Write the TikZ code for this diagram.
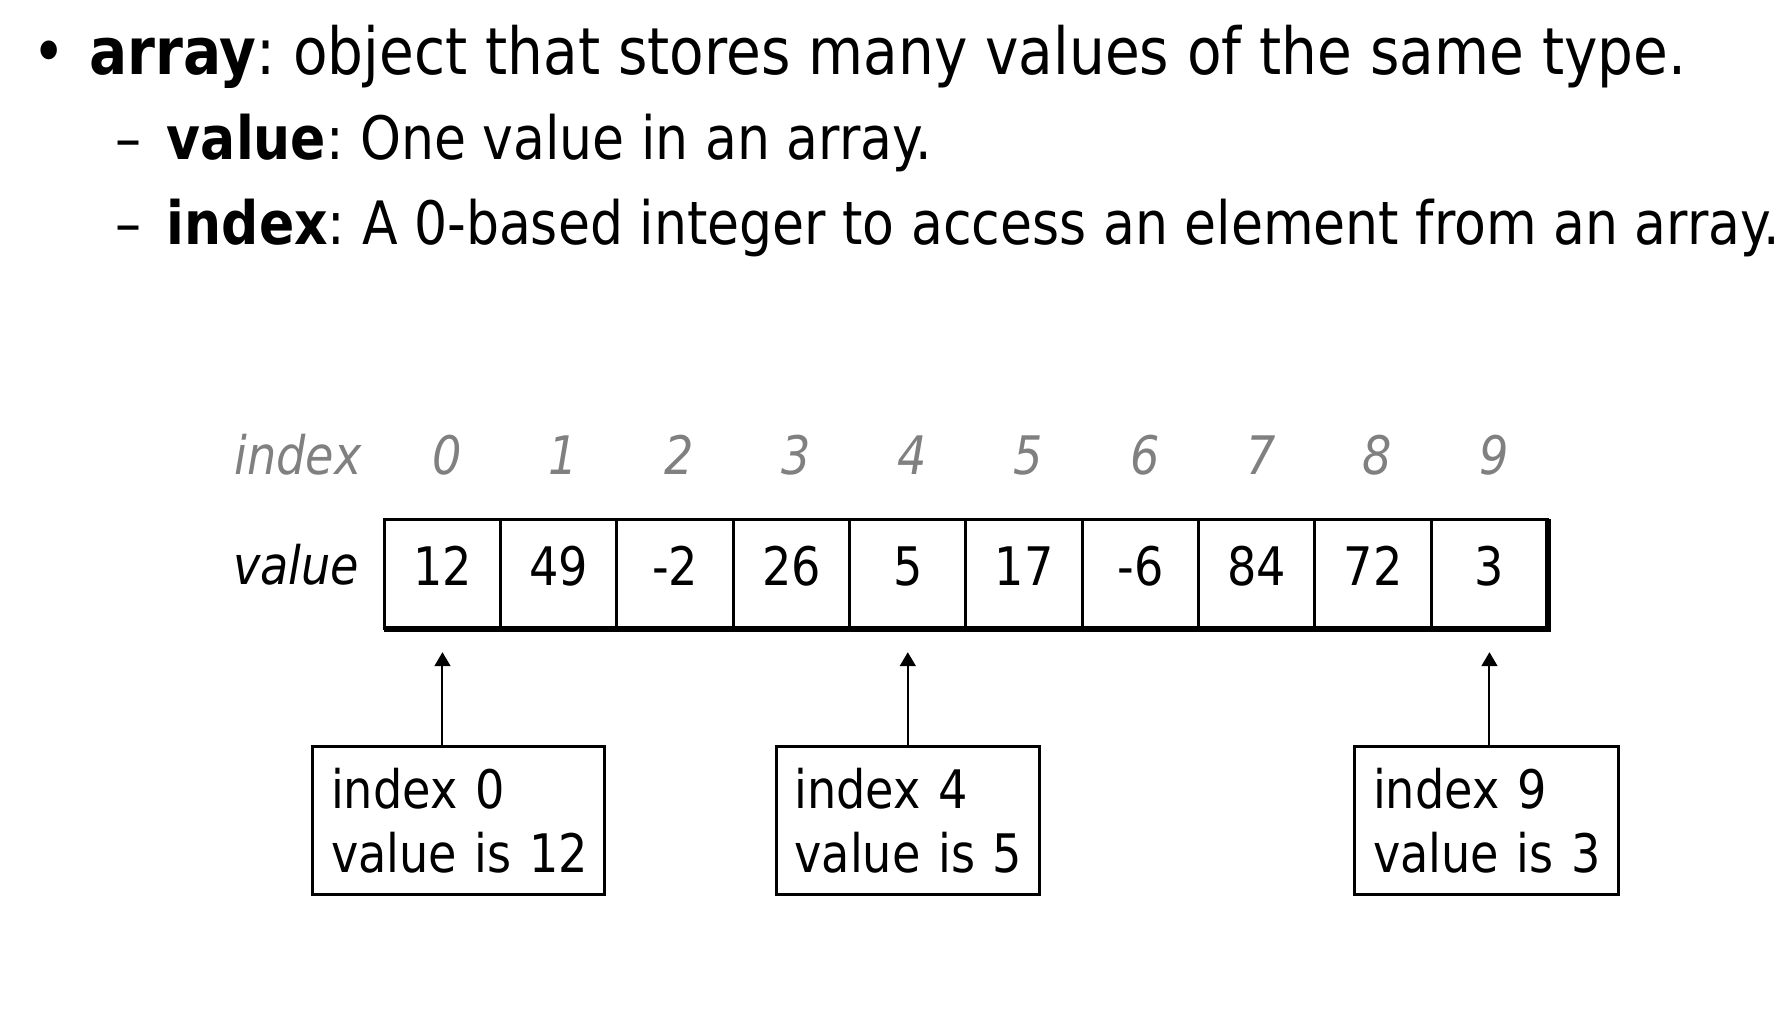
\documentclass[tikz,border=0pt]{standalone}
\usepackage{fontspec}
\setmainfont{DejaVu Sans}[FakeStretch=0.87]
\usetikzlibrary{arrows.meta}
\newcommand\fsz[2]{\fontsize{#1}{#2}\selectfont}
\definecolor{idx_gray}{RGB}{128,128,128}
\frenchspacing

\begin{document}
\begin{tikzpicture}[x=1pt,y=-1pt,line width=2.6pt]
    \tikzstyle{bigline}=[anchor=base west,inner sep=0pt,font=\fsz{56.9}{68}]
    \tikzstyle{subline}=[anchor=base west,inner sep=0pt,font=\fsz{52.4}{62}]
    \tikzstyle{idxlabel}=[anchor=base,inner sep=0pt,text=idx_gray,font=\fsz{46.5}{56}\itshape]
    \tikzstyle{rowlabel}=[anchor=base east,inner sep=0pt,font=\fsz{46.5}{56}\itshape]
    \tikzstyle{cell}=[draw,minimum width=101.92pt,minimum height=96.1pt,inner sep=0pt,outer sep=0pt,
                      anchor=north west,text height=34pt,text depth=14pt,font=\fsz{46.5}{56}]
    \tikzstyle{infobox}=[draw,anchor=north west,minimum height=130pt,inner xsep=16pt,outer sep=0pt,
                         align=left,font=\fsz{46.5}{56}]
    \tikzstyle{pointer}=[-{Triangle[length=12.3pt,width=14pt]},line width=1.75pt,shorten >=20.5pt]

    \useasboundingbox (0,0) rectangle (1570,895.4);

    % bullet list
    \node[bigline] (bul) at (27,65.5) {•};
    \node[bigline] (l1)  at (77,65.5) {\textbf{array}: object that stores many values of the same type.};
    \node[subline] (d2)  at (100,140) {–};
    \node[subline] (l2)  at (145,140) {\textbf{value}: One value in an array.};
    \node[subline] (d3)  at (100,214) {–};
    \node[subline] (l3)  at (145,214) {\textbf{index}: A 0-based integer to access an element from an array.};

    % the array
    \foreach \v [count=\i from 0] in {12,49,-2,26,5,17,-6,84,72,3} {
      \node[cell] (c\i) at ({336.7+101.92*\i},454.8) {\v};
      \node[idxlabel] (i\i) at ({391.5+101.92*\i},416) {\i};
    }
    \draw[line width=5.3pt] (c0.south west) -- (c9.south east) -- (c9.north east);
    \node[rowlabel,text=idx_gray] (idx) at (318,416) {index};
    \node[rowlabel] (val) at (316,512) {value};

    % callouts
    \node[infobox,text width=224pt] (b0) at (274,654) {\mbox{index 0}\\\mbox{value is 12}};
    \node[infobox,text width=199pt] (b4) at (680,654) {\mbox{index 4}\\\mbox{value is 5}};
    \node[infobox,text width=199pt] (b9) at (1187,654) {\mbox{index 9}\\\mbox{value is 3}};

    \draw[pointer] (b0.north -| c0.south) -- (c0.south);
    \draw[pointer] (b4.north -| c4.south) -- (c4.south);
    \draw[pointer] (b9.north -| c9.south) -- (c9.south);
\end{tikzpicture}
\end{document}
